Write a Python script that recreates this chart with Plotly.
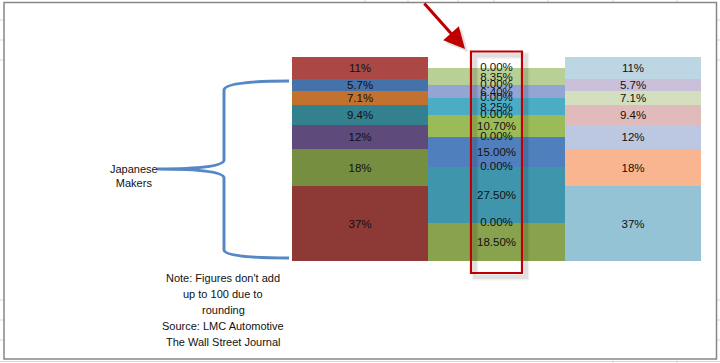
import plotly.graph_objects as go

# ---- data ----
bar_positions = [0, 1, 2]
left_values = [37, 18, 12, 9.4, 7.1, 5.7, 11]
left_labels = ["37%", "18%", "12%", "9.4%", "7.1%", "5.7%", "11%"]
left_colors = ["#8d3a37", "#768e3f", "#5e4a7b", "#33808f", "#c2712f", "#4472a9", "#ab4845"]

middle_values = [18.5, 0, 27.5, 0, 15.0, 0, 10.7, 0, 8.25, 0, 6.4, 0, 8.35, 0]
middle_colors = ["#88a24d", "#88a24d", "#3f95ab", "#3f95ab", "#4f80bd", "#4f80bd",
                 "#9bbb59", "#9bbb59", "#4bacc6", "#4bacc6", "#94a5d3", "#94a5d3",
                 "#b8cf95", "#b8cf95"]

right_values = [37, 18, 12, 9.4, 7.1, 5.7, 11]
right_labels = ["37%", "18%", "12%", "9.4%", "7.1%", "5.7%", "11%"]
right_colors = ["#93c3d5", "#f9b590", "#bcc7e1", "#e1bbbb", "#d3dfbf", "#cbc0d9", "#bcd7e3"]

brace_label = "Japanese<br>Makers"
note_lines = ["Note: Figures don't add", "up to 100 due to", "rounding",
              "Source: LMC Automotive", "The Wall Street Journal"]

W, H = 720, 363
FONT = "Liberation Sans"
TXT = "#111111"


def px(x, y):
    return x / W, 1 - y / H


fig = go.Figure()


def add_bar(pos, val, color, label):
    fig.add_trace(go.Bar(
        x=[pos], y=[val], width=1, marker=dict(color=color, line=dict(width=0)),
        text=[label] if val > 0 else [""], textposition="inside",
        insidetextanchor="middle", textangle=0, constraintext="none",
        textfont=dict(family=FONT, size=11.5, color=TXT),
        showlegend=False, hoverinfo="skip"))


for v, c, l in zip(left_values, left_colors, left_labels):
    add_bar(bar_positions[0], v, c, l)
for v, c in zip(middle_values, middle_colors):
    add_bar(bar_positions[1], v, c, f"{v:.2f}%")
for v, c, l in zip(right_values, right_colors, right_labels):
    add_bar(bar_positions[2], v, c, l)

# zero-valued segment labels on the middle bar
zero_y = []
cum = 0
for v in middle_values:
    cum += v
    if v == 0:
        zero_y.append(cum)
fig.add_trace(go.Scatter(
    x=[bar_positions[1]] * len(zero_y), y=zero_y, mode="text",
    text=["0.00%"] * len(zero_y), textposition="middle center",
    textfont=dict(family=FONT, size=11.5, color=TXT),
    showlegend=False, hoverinfo="skip"))

shapes = []
# Excel cell gridline stubs outside chart area
grid = "#d0d7e5"
for y in [20, 40, 60, 300, 320, 340]:
    a = px(0, y); b = px(4, y)
    shapes.append(dict(type="line", xref="paper", yref="paper", x0=a[0], y0=a[1], x1=b[0], y1=b[1],
                       line=dict(color=grid, width=1)))
    a = px(717, y); b = px(720, y)
    shapes.append(dict(type="line", xref="paper", yref="paper", x0=a[0], y0=a[1], x1=b[0], y1=b[1],
                       line=dict(color=grid, width=1)))
for x in [365, 408, 458, 494, 548, 613, 677]:
    a = px(x, 0); b = px(x, 2)
    shapes.append(dict(type="line", xref="paper", yref="paper", x0=a[0], y0=a[1], x1=b[0], y1=b[1],
                       line=dict(color=grid, width=1)))
for x in [613, 677]:
    a = px(x, 359); b = px(x, 363)
    shapes.append(dict(type="line", xref="paper", yref="paper", x0=a[0], y0=a[1], x1=b[0], y1=b[1],
                       line=dict(color=grid, width=1)))
a = px(0, 361.5); b = px(720, 361.5)
shapes.append(dict(type="line", xref="paper", yref="paper", x0=a[0], y0=a[1], x1=b[0], y1=b[1],
                   line=dict(color=grid, width=1)))

# chart border
a = px(4, 2.5); b = px(716.5, 359)
shapes.append(dict(type="rect", xref="paper", yref="paper", x0=a[0], y0=b[1], x1=b[0], y1=a[1],
                   line=dict(color="#868686", width=1.5), layer="above"))

# red highlight box with soft shadow
for off, wdt, op in [(4, 7, 0.05), (4, 4, 0.08)]:
    a = px(471 + off, 51.5 + off); b = px(522 + off, 273 + off)
    shapes.append(dict(type="rect", xref="paper", yref="paper", x0=a[0], y0=b[1], x1=b[0], y1=a[1],
                       line=dict(color=f"rgba(0,0,0,{op})", width=wdt), layer="above"))
a = px(471, 51.5); b = px(522, 273)
shapes.append(dict(type="rect", xref="paper", yref="paper", x0=a[0], y0=b[1], x1=b[0], y1=a[1],
                   line=dict(color="#c00000", width=2.2), layer="above"))


# brace
def path(points_cmds):
    out = []
    for cmd, pts in points_cmds:
        coords = []
        for (x, y) in pts:
            X, Y = px(x, y)
            coords.append(f"{X:.5f},{Y:.5f}")
        out.append(cmd + " " + " ".join(coords))
    return " ".join(out)


brace = path([
    ("M", [(289, 81)]),
    ("Q", [(224, 81), (224, 90)]),
    ("L", [(224, 160)]),
    ("Q", [(224, 169), (157, 169)]),
    ("Q", [(224, 169), (224, 178)]),
    ("L", [(224, 250)]),
    ("Q", [(224, 258), (289, 258)]),
])
shapes.append(dict(type="path", xref="paper", yref="paper", path=brace,
                   line=dict(color="#5588c4", width=3)))

annotations = []
X, Y = px(134, 176)
annotations.append(dict(x=X, y=Y, xref="paper", yref="paper", text=brace_label, showarrow=False,
                        font=dict(family=FONT, size=11, color=TXT), align="center",
                        xanchor="center", yanchor="middle"))
for i, line in enumerate(note_lines):
    X, Y = px(223, 278 + i * 16.1)
    annotations.append(dict(x=X, y=Y, xref="paper", yref="paper", text=line, showarrow=False,
                            font=dict(family=FONT, size=11, color=TXT),
                            xanchor="center", yanchor="middle"))

# red arrow with shadow
for dx, dy, col in [(3, 3, "rgba(0,0,0,0.12)"), (0, 0, "#c00000")]:
    X, Y = px(465 + dx, 49 + dy)
    annotations.append(dict(x=X, y=Y, xref="paper", yref="paper", text="", showarrow=True,
                            ax=-42, ay=-47, arrowcolor=col, arrowwidth=3, arrowhead=2,
                            arrowsize=1.4, standoff=0))

# axis ranges map bars to pixel positions
x_per_px = 1 / 136.33
x0 = -0.5 - 292 * x_per_px
x1 = 2.5 + (720 - 701) * x_per_px
y_per_px = 100.2 / 204.0
y_bottom = -(H - 261) * y_per_px
y_top = 261 * y_per_px

fig.update_layout(
    width=W, height=H, margin=dict(l=0, r=0, t=0, b=0),
    paper_bgcolor="white", plot_bgcolor="white",
    barmode="stack", bargap=0,
    xaxis=dict(range=[x0, x1], visible=False, fixedrange=True),
    yaxis=dict(range=[y_bottom, y_top], visible=False, fixedrange=True),
    shapes=shapes, annotations=annotations,
    font=dict(family=FONT),
)

fig.write_html("out.html")
